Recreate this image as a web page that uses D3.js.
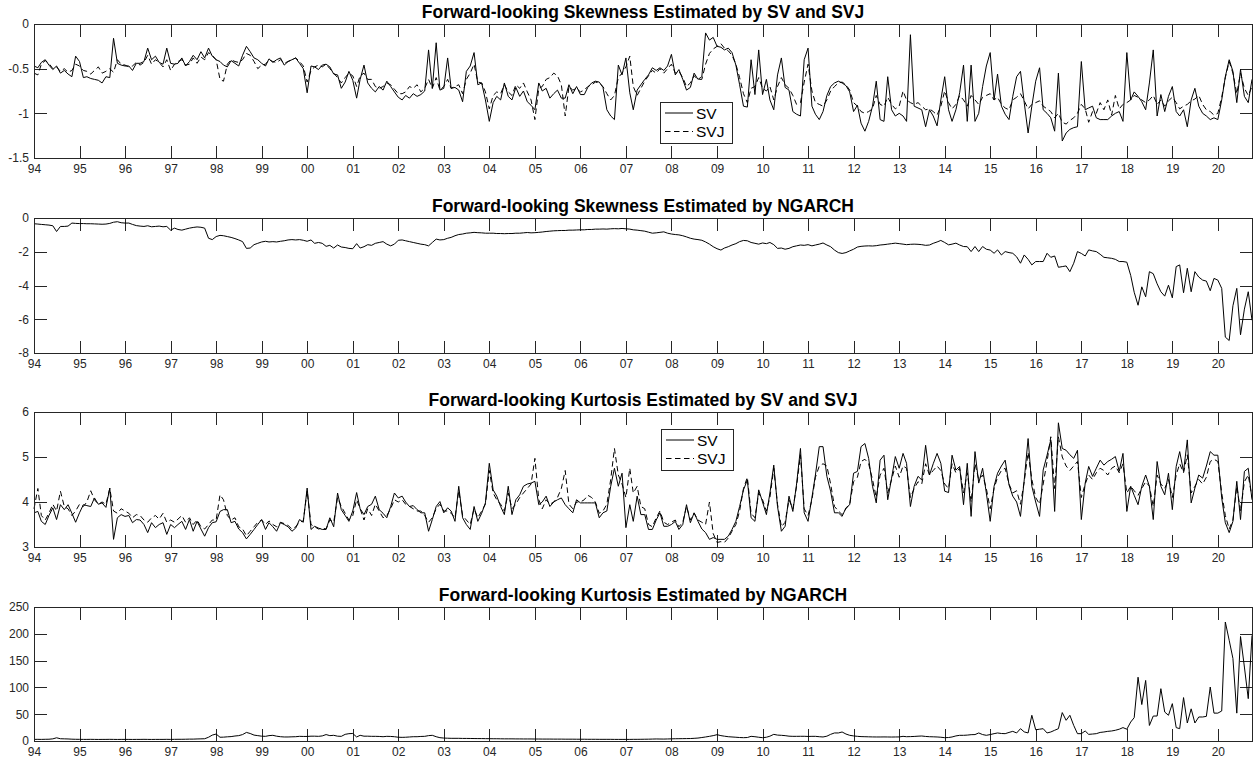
<!DOCTYPE html>
<html>
<head>
<meta charset="utf-8">
<script src="https://cdn.jsdelivr.net/npm/d3@7"></script>
<style>
  body { margin: 0; background: #fff; }
  svg { display: block; font-family: "Liberation Sans", Arial, Helvetica, sans-serif; }
</style>
</head>
<body>
<div id="chart"></div>
<script>
// monthly series, Jan 1994 .. Oct 2020 (one row per year)
var startYear = 1994;
var yearTicks = d3.range(1994, 2021);

var svSkew = [
  -0.47,-0.49,-0.43,-0.40,-0.46,-0.51,-0.47,-0.55,-0.52,-0.56,-0.59,-0.36,
  -0.42,-0.60,-0.59,-0.61,-0.62,-0.63,-0.66,-0.59,-0.60,-0.16,-0.44,-0.46,
  -0.47,-0.47,-0.52,-0.44,-0.44,-0.42,-0.27,-0.40,-0.36,-0.43,-0.45,-0.27,
  -0.44,-0.45,-0.44,-0.38,-0.47,-0.42,-0.35,-0.40,-0.31,-0.38,-0.27,-0.36,
  -0.40,-0.42,-0.46,-0.48,-0.41,-0.44,-0.47,-0.35,-0.25,-0.31,-0.38,-0.40,
  -0.44,-0.47,-0.39,-0.43,-0.40,-0.38,-0.46,-0.42,-0.40,-0.38,-0.44,-0.50,
  -0.77,-0.47,-0.48,-0.51,-0.46,-0.45,-0.48,-0.56,-0.57,-0.72,-0.65,-0.53,
  -0.63,-0.83,-0.62,-0.46,-0.66,-0.72,-0.76,-0.70,-0.74,-0.64,-0.70,-0.76,
  -0.82,-0.85,-0.80,-0.83,-0.78,-0.81,-0.79,-0.75,-0.29,-0.72,-0.21,-0.74,
  -0.72,-0.38,-0.72,-0.71,-0.74,-0.87,-0.53,-0.47,-0.32,-0.68,-0.66,-0.85,
  -1.09,-0.88,-0.81,-0.85,-0.66,-0.81,-0.85,-0.71,-0.81,-0.75,-0.87,-0.91,
  -0.96,-0.66,-0.75,-0.72,-0.83,-0.78,-0.74,-0.83,-0.83,-0.68,-0.78,-0.70,
  -0.79,-0.79,-0.71,-0.66,-0.64,-0.65,-0.71,-0.96,-1.03,-1.07,-0.46,-0.57,
  -0.38,-0.77,-0.96,-0.74,-0.68,-0.62,-0.57,-0.49,-0.52,-0.49,-0.52,-0.47,
  -0.34,-0.57,-0.51,-0.62,-0.74,-0.71,-0.55,-0.62,-0.59,-0.10,-0.18,-0.15,
  -0.25,-0.26,-0.29,-0.27,-0.32,-0.46,-0.68,-0.92,-0.93,-0.40,-0.79,-0.29,
  -0.79,-0.62,-0.85,-0.96,-0.57,-0.38,-0.71,-0.74,-0.98,-1.01,-1.03,-0.40,
  -0.27,-0.92,-1.01,-1.07,-0.98,-0.80,-0.70,-0.66,-0.64,-0.66,-0.69,-0.76,
  -0.98,-0.91,-1.11,-1.20,-1.09,-0.92,-0.64,-1.07,-1.09,-0.59,-0.96,-1.03,
  -1.00,-1.03,-1.09,-0.12,-0.92,-0.94,-0.96,-1.15,-0.96,-1.03,-1.14,-0.85,
  -0.59,-0.96,-1.09,-0.96,-0.77,-0.46,-1.09,-0.46,-1.09,-1.00,-0.70,-0.47,
  -0.32,-0.85,-0.56,-0.92,-1.01,-1.07,-0.81,-0.59,-0.53,-0.88,-1.22,-0.92,
  -0.64,-0.49,-0.96,-1.00,-1.05,-1.20,-0.55,-1.31,-1.22,-1.18,-1.16,-1.15,
  -0.42,-0.96,-0.94,-0.92,-1.05,-1.07,-1.07,-1.07,-1.03,-1.00,-0.98,-1.09,
  -0.32,-0.85,-0.76,-0.81,-0.87,-0.96,-0.66,-0.29,-1.03,-0.79,-0.98,-0.81,
  -0.70,-0.98,-1.03,-0.96,-1.15,-0.85,-0.72,-0.92,-1.00,-1.03,-1.07,-1.05,
  -1.07,-0.85,-0.59,-0.40,-0.53,-0.88,-0.51,-0.81,-0.88,-0.62
];

var svjSkew = [
  -0.55,-0.57,-0.45,-0.41,-0.44,-0.50,-0.48,-0.53,-0.50,-0.54,-0.52,-0.45,
  -0.47,-0.52,-0.53,-0.56,-0.52,-0.48,-0.55,-0.53,-0.50,-0.54,-0.40,-0.45,
  -0.46,-0.48,-0.47,-0.43,-0.46,-0.43,-0.35,-0.45,-0.40,-0.43,-0.48,-0.40,
  -0.52,-0.45,-0.42,-0.40,-0.46,-0.45,-0.38,-0.44,-0.37,-0.40,-0.32,-0.35,
  -0.40,-0.62,-0.64,-0.45,-0.40,-0.42,-0.43,-0.40,-0.33,-0.35,-0.42,-0.50,
  -0.46,-0.45,-0.40,-0.42,-0.43,-0.40,-0.44,-0.42,-0.40,-0.38,-0.42,-0.47,
  -0.65,-0.52,-0.48,-0.46,-0.48,-0.45,-0.50,-0.55,-0.60,-0.66,-0.60,-0.55,
  -0.58,-0.70,-0.58,-0.55,-0.62,-0.62,-0.70,-0.72,-0.70,-0.66,-0.68,-0.73,
  -0.78,-0.78,-0.76,-0.70,-0.72,-0.68,-0.76,-0.72,-0.62,-0.72,-0.60,-0.74,
  -0.70,-0.62,-0.72,-0.70,-0.68,-0.78,-0.62,-0.55,-0.45,-0.65,-0.66,-0.76,
  -0.95,-0.80,-0.76,-0.78,-0.68,-0.76,-0.80,-0.68,-0.72,-0.66,-0.76,-0.85,
  -1.07,-0.72,-0.70,-0.62,-0.60,-0.55,-0.58,-0.68,-1.03,-0.70,-0.74,-0.72,
  -0.76,-0.74,-0.70,-0.68,-0.65,-0.66,-0.70,-0.78,-0.85,-0.80,-0.60,-0.55,
  -0.48,-0.36,-0.70,-0.80,-0.72,-0.64,-0.58,-0.52,-0.55,-0.50,-0.55,-0.50,
  -0.45,-0.55,-0.53,-0.60,-0.70,-0.66,-0.58,-0.62,-0.62,-0.45,-0.33,-0.28,
  -0.25,-0.22,-0.27,-0.30,-0.35,-0.45,-0.60,-0.78,-0.88,-0.72,-0.70,-0.60,
  -0.72,-0.75,-0.70,-0.85,-0.70,-0.60,-0.68,-0.72,-0.80,-0.90,-0.88,-0.65,
  -0.45,-0.75,-0.88,-0.90,-0.92,-0.85,-0.75,-0.70,-0.66,-0.65,-0.68,-0.74,
  -0.88,-0.92,-0.98,-1.00,-0.98,-0.95,-0.80,-0.90,-0.92,-0.82,-0.90,-0.95,
  -0.92,-0.75,-0.85,-0.88,-0.90,-0.88,-0.92,-0.96,-0.95,-0.98,-1.02,-0.92,
  -0.75,-0.88,-0.95,-0.90,-0.80,-0.85,-0.92,-0.80,-0.85,-0.90,-0.82,-0.80,
  -0.78,-0.85,-0.82,-0.90,-0.94,-0.96,-0.85,-0.82,-0.78,-0.86,-0.95,-0.90,
  -0.88,-0.86,-0.92,-0.95,-0.98,-1.05,-1.00,-1.10,-1.12,-1.08,-1.05,-1.00,
  -0.90,-0.95,-1.10,-0.98,-1.00,-0.88,-0.96,-0.85,-1.02,-0.80,-0.95,-0.90,
  -0.88,-0.85,-0.80,-0.82,-0.85,-0.88,-0.85,-0.80,-0.90,-0.85,-0.92,-0.86,
  -0.82,-0.88,-0.95,-0.92,-0.90,-0.86,-0.84,-0.80,-0.90,-0.96,-0.98,-1.02,
  -1.00,-0.82,-0.60,-0.42,-0.55,-0.78,-0.55,-0.72,-0.80,-0.70
];

var ngarchSkew = [
  -0.34,-0.36,-0.38,-0.40,-0.42,-0.46,-0.80,-0.50,-0.50,-0.48,-0.30,-0.32,
  -0.33,-0.33,-0.34,-0.34,-0.35,-0.36,-0.37,-0.36,-0.32,-0.25,-0.22,-0.28,
  -0.30,-0.30,-0.38,-0.45,-0.48,-0.50,-0.46,-0.52,-0.50,-0.48,-0.52,-0.50,
  -0.72,-0.60,-0.68,-0.72,-0.66,-0.60,-0.56,-0.53,-0.55,-0.60,-1.20,-1.28,
  -1.10,-1.03,-1.05,-1.10,-1.15,-1.22,-1.30,-1.40,-1.80,-1.78,-1.58,-1.50,
  -1.42,-1.38,-1.42,-1.40,-1.42,-1.38,-1.35,-1.30,-1.28,-1.30,-1.28,-1.32,
  -1.38,-1.30,-1.50,-1.45,-1.50,-1.68,-1.62,-1.78,-1.60,-1.72,-1.75,-1.80,
  -1.82,-1.52,-1.78,-1.70,-1.58,-1.62,-1.50,-1.45,-1.40,-1.55,-1.65,-1.55,
  -1.32,-1.30,-1.35,-1.40,-1.45,-1.50,-1.55,-1.58,-1.65,-1.45,-1.25,-1.30,
  -1.28,-1.20,-1.15,-1.05,-0.98,-0.95,-0.90,-0.88,-0.85,-0.87,-0.88,-0.90,
  -0.90,-0.90,-0.92,-0.92,-0.93,-0.92,-0.92,-0.90,-0.90,-0.88,-0.86,-0.88,
  -0.87,-0.85,-0.83,-0.80,-0.78,-0.76,-0.75,-0.74,-0.74,-0.72,-0.72,-0.71,
  -0.70,-0.70,-0.68,-0.68,-0.66,-0.66,-0.65,-0.66,-0.64,-0.63,-0.64,-0.62,
  -0.64,-0.66,-0.70,-0.72,-0.75,-0.78,-0.84,-0.90,-0.88,-0.85,-0.82,-0.90,
  -0.95,-0.98,-1.00,-1.05,-1.12,-1.20,-1.25,-1.28,-1.32,-1.42,-1.55,-1.70,
  -1.82,-1.90,-1.78,-1.70,-1.60,-1.52,-1.40,-1.33,-1.35,-1.45,-1.50,-1.55,
  -1.48,-1.52,-1.45,-1.58,-1.80,-1.78,-1.85,-1.80,-1.70,-1.65,-1.60,-1.62,
  -1.58,-1.65,-1.60,-1.55,-1.48,-1.60,-1.70,-1.90,-2.05,-2.10,-2.05,-1.95,
  -1.85,-1.72,-1.68,-1.66,-1.65,-1.66,-1.64,-1.60,-1.58,-1.55,-1.52,-1.49,
  -1.52,-1.55,-1.58,-1.56,-1.55,-1.56,-1.58,-1.62,-1.60,-1.50,-1.42,-1.33,
  -1.45,-1.59,-1.55,-1.49,-1.60,-1.69,-1.70,-1.99,-1.69,-1.99,-1.69,-1.85,
  -1.90,-2.09,-1.89,-2.19,-1.99,-2.05,-2.09,-2.30,-2.68,-2.19,-2.45,-2.78,
  -2.58,-2.58,-2.58,-2.09,-2.33,-2.25,-2.92,-2.88,-2.84,-3.18,-2.68,-1.99,
  -2.10,-2.25,-1.89,-1.95,-1.99,-2.15,-2.33,-2.36,-2.39,-2.45,-2.58,-2.58,
  -2.62,-3.40,-4.40,-5.17,-4.08,-4.67,-3.18,-3.30,-3.90,-4.37,-4.63,-3.98,
  -4.73,-2.88,-2.78,-4.43,-2.98,-4.37,-3.18,-3.50,-3.68,-3.74,-4.31,-3.58,
  -3.68,-4.17,-7.06,-7.26,-5.20,-4.17,-6.92,-5.40,-4.37,-6.06
];

var svKurt = [
  3.76,3.79,3.57,3.50,3.70,3.87,3.61,3.94,3.83,3.94,3.75,3.55,
  3.76,3.94,3.92,3.90,4.09,3.95,3.98,3.88,4.31,3.17,3.65,3.72,
  3.68,3.70,3.54,3.61,3.60,3.50,3.32,3.54,3.43,3.50,3.54,3.28,
  3.50,3.43,3.50,3.57,3.39,3.61,3.35,3.57,3.40,3.24,3.43,3.54,
  3.56,3.79,3.83,3.83,3.54,3.57,3.40,3.32,3.18,3.28,3.39,3.50,
  3.61,3.39,3.54,3.45,3.35,3.54,3.50,3.45,3.35,3.42,3.61,3.55,
  4.31,3.39,3.46,3.42,3.39,3.39,3.65,3.45,4.20,3.83,3.70,3.57,
  3.80,4.21,3.85,3.72,3.90,3.95,4.13,3.83,3.75,3.65,3.90,4.20,
  4.09,4.13,4.00,3.90,3.92,3.83,3.76,3.76,3.35,3.61,3.90,4.01,
  3.76,3.87,3.80,3.57,4.35,3.65,3.50,3.39,3.90,3.57,3.75,3.98,
  4.86,4.27,4.13,3.90,3.72,4.35,3.72,4.05,4.16,4.35,4.40,4.42,
  4.46,3.94,4.00,4.13,3.90,4.00,4.05,4.09,3.94,3.85,3.76,4.05,
  3.98,3.98,3.98,3.98,3.98,3.65,3.76,3.80,4.35,4.75,4.35,4.64,
  3.43,3.94,3.57,4.13,3.72,3.72,3.39,3.39,3.60,3.76,3.46,3.46,
  3.50,3.57,3.39,3.50,3.94,3.54,3.76,3.57,3.40,3.32,3.17,3.21,
  3.17,3.17,3.17,3.24,3.39,3.57,3.90,4.27,4.49,3.65,3.57,4.27,
  4.00,3.72,4.20,4.82,3.90,3.35,3.46,4.13,3.79,4.40,5.19,3.76,
  3.57,4.10,4.60,5.23,5.23,4.57,4.24,3.76,3.76,3.68,3.87,3.94,
  4.64,4.68,5.23,5.30,4.97,4.35,3.98,4.93,5.04,4.05,4.53,5.01,
  4.75,5.08,4.86,3.90,4.35,4.57,4.49,5.26,4.60,4.85,5.08,4.86,
  4.24,4.21,5.04,4.71,4.79,3.94,4.86,3.68,5.12,4.42,4.75,4.20,
  3.57,4.35,4.64,4.80,4.93,4.38,4.13,4.00,3.68,4.49,5.41,4.35,
  4.00,3.68,4.71,5.04,5.38,3.79,5.76,5.19,5.15,5.05,4.97,5.15,
  3.61,4.42,4.79,4.57,4.75,4.93,4.82,4.90,4.95,5.01,4.68,5.08,
  3.79,4.35,4.15,3.94,4.35,4.60,4.35,3.61,4.90,4.35,4.16,4.64,
  3.83,4.79,5.12,4.68,5.38,3.98,4.31,4.60,4.53,4.80,5.12,5.04,
  5.04,4.09,3.54,3.32,3.57,4.46,3.61,4.68,4.75,4.05
];

var svjKurt = [
  3.85,4.30,3.70,3.60,3.75,3.95,3.80,4.24,3.90,3.85,3.70,3.80,
  3.95,3.90,4.00,4.25,4.05,3.95,4.00,3.95,4.30,3.80,3.75,3.85,
  3.80,3.75,3.65,3.72,3.70,3.60,3.55,3.65,3.70,3.62,3.75,3.55,
  3.60,3.55,3.62,3.70,3.55,3.65,3.50,3.60,3.45,3.40,3.50,3.60,
  3.60,4.16,4.05,3.70,3.60,3.65,3.45,3.40,3.25,3.35,3.45,3.55,
  3.60,3.50,3.58,3.50,3.45,3.55,3.52,3.48,3.40,3.45,3.55,3.58,
  4.25,3.50,3.45,3.40,3.42,3.40,3.60,3.55,4.10,3.90,3.75,3.60,
  3.70,4.05,3.85,3.60,3.85,3.70,3.95,3.80,3.65,3.70,3.85,4.05,
  4.00,4.05,3.95,3.90,3.85,3.80,3.80,3.70,3.55,3.65,3.85,3.95,
  3.80,3.80,3.75,3.65,4.25,3.70,3.60,3.50,3.85,3.65,3.80,3.95,
  4.70,4.20,4.05,3.95,3.80,4.20,3.85,3.95,4.10,4.20,4.30,4.40,
  4.97,4.05,3.85,4.05,3.95,4.00,4.10,4.30,4.70,3.95,3.85,4.00,
  4.00,4.05,4.15,4.10,4.00,3.75,3.80,3.95,4.50,5.19,4.60,4.40,
  4.10,4.75,4.20,4.35,3.90,3.85,3.50,3.45,3.65,3.80,3.55,3.50,
  3.55,3.60,3.45,3.55,3.90,3.60,3.75,3.60,3.55,3.50,4.00,3.30,
  3.10,3.12,3.10,3.20,3.35,3.50,3.80,4.30,4.55,3.75,3.65,4.20,
  4.05,3.80,4.10,4.75,3.95,3.45,3.55,4.05,3.85,4.35,5.05,3.85,
  3.70,4.05,4.55,4.80,4.85,4.80,4.40,3.90,3.80,3.72,3.85,3.95,
  4.45,4.55,4.90,4.95,4.85,4.50,4.10,4.60,4.75,4.20,4.50,4.80,
  4.55,4.80,4.75,4.10,4.30,4.45,4.40,4.85,4.60,4.70,4.80,4.70,
  4.40,4.30,4.85,4.65,4.75,4.20,4.65,4.00,4.85,4.50,4.60,4.30,
  3.85,4.30,4.55,4.70,4.75,4.40,4.20,4.25,3.95,4.45,5.10,4.50,
  4.10,3.95,4.40,4.90,5.45,4.30,5.45,5.00,4.80,4.70,4.80,4.90,
  4.10,4.40,4.60,4.50,4.65,4.75,4.70,4.60,4.75,4.80,4.65,4.85,
  4.20,4.35,4.25,4.15,4.30,4.45,4.35,3.90,4.60,4.40,4.30,4.50,
  4.10,4.60,4.85,4.65,5.05,4.20,4.35,4.50,4.40,4.55,4.90,4.95,
  4.90,4.20,3.70,3.40,3.60,4.35,3.80,4.45,4.60,4.10
];

var ngarchKurt = [
  3.0,3.1,3.0,3.2,3.3,4.0,6.0,4.2,4.0,3.8,3.4,3.2,
  3.1,3.0,3.0,3.1,3.0,2.9,3.0,3.0,3.1,3.0,2.9,3.0,
  3.0,3.0,2.9,3.0,3.0,3.1,3.0,2.9,3.0,3.0,3.0,3.1,
  3.0,3.1,3.2,3.2,3.3,3.5,3.5,3.8,4.0,4.2,7.0,11.0,
  13.0,7.0,7.2,7.8,8.2,9.3,10.0,12.0,16.0,14.0,11.0,10.0,
  9.0,8.7,10.0,10.6,9.0,8.0,7.5,7.5,7.8,8.0,8.7,8.5,
  8.5,9.0,9.0,8.7,9.5,12.0,10.0,10.6,9.0,8.7,12.4,13.7,
  14.0,7.5,10.6,9.0,9.0,8.7,8.7,8.5,8.0,8.7,8.5,8.0,
  7.0,6.8,7.0,7.5,8.0,8.0,8.5,8.7,10.0,10.6,8.0,6.2,
  5.5,5.2,5.0,5.0,5.0,4.8,4.8,4.7,4.6,4.5,4.5,4.4,
  4.3,4.2,4.2,4.1,4.0,4.0,4.0,3.9,3.9,3.8,3.8,3.8,
  3.7,3.7,3.6,3.6,3.6,3.5,3.5,3.5,3.4,3.4,3.4,3.3,
  3.3,3.3,3.2,3.2,3.2,3.1,3.1,3.1,3.1,3.0,3.0,3.0,
  3.0,3.0,3.1,3.1,3.2,3.3,3.4,3.6,3.8,3.7,3.6,3.8,
  4.0,4.2,4.3,4.4,4.5,4.6,5.0,5.5,6.5,7.5,8.7,10.0,
  11.8,10.0,9.0,8.0,7.5,7.0,6.5,6.2,6.5,8.7,8.0,7.0,
  6.2,7.0,9.0,12.4,11.0,10.6,10.0,9.0,8.7,8.7,8.8,8.8,
  8.5,8.7,8.7,8.0,7.5,9.0,12.4,15.0,15.0,16.8,13.0,10.6,
  9.5,8.7,8.2,8.0,7.8,7.6,7.5,7.5,7.6,7.5,7.4,7.5,
  7.6,8.7,8.0,8.2,8.5,9.0,9.3,8.5,8.0,7.8,7.5,7.0,
  6.2,6.5,7.5,9.5,10.6,10.6,11.0,11.8,12.0,15.0,12.0,10.6,
  12.0,13.7,15.0,14.0,13.7,16.0,18.0,15.0,23.0,17.0,15.0,48.0,
  21.0,22.0,23.0,15.0,16.8,20.0,23.0,53.0,38.6,48.0,29.0,13.7,
  13.7,18.7,12.4,13.0,13.7,16.0,16.8,18.0,18.7,20.0,22.0,25.0,
  22.0,35.4,43.5,119.0,68.0,113.0,29.0,46.6,46.6,97.6,54.0,48.0,
  69.7,25.0,23.0,81.0,33.6,60.0,33.6,44.8,44.8,46.0,100.7,52.0,
  52.0,56.0,222.0,188.0,154.0,52.0,195.0,138.0,79.0,197.0
];

var titles = [
  "Forward-looking Skewness Estimated by SV and SVJ",
  "Forward-looking Skewness Estimated by NGARCH",
  "Forward-looking Kurtosis Estimated by SV and SVJ",
  "Forward-looking Kurtosis Estimated by NGARCH"
];
var legendLabels = ["SV", "SVJ"];

var svgWidth = 1259;
var svgHeight = 763;
var plotLeft = 34;
var plotRight = 1252;
var tickLen = 12.5;
var axisColor = "#262626";

var monthDates = d3.range(svSkew.length).map(i => new Date(startYear, i, 1));

var x = d3.scaleTime()
  .domain([monthDates[0], monthDates[monthDates.length - 1]])
  .range([plotLeft, plotRight]);

var panels = [
  { top: 24, bottom: 158, domain: [-1.5, 0], ticks: [-1.5, -1, -0.5, 0],
    series: [svSkew, svjSkew], legend: [660, 102] },
  { top: 218, bottom: 353, domain: [-8, 0], ticks: [-8, -6, -4, -2, 0],
    series: [ngarchSkew] },
  { top: 412, bottom: 547, domain: [3, 6], ticks: [3, 4, 5, 6],
    series: [svKurt, svjKurt], legend: [661, 429] },
  { top: 607, bottom: 741, domain: [0, 250], ticks: [0, 50, 100, 150, 200, 250],
    series: [ngarchKurt] }
];
var dashes = [null, "5.5,3.5"];

var svg = d3.select("#chart")
  .append("svg")
  .attr("width", svgWidth)
  .attr("height", svgHeight);

panels.forEach(function(p, k) {
  var y = d3.scaleLinear().domain(p.domain).range([p.bottom, p.top]);
  var g = svg.append("g");

  // bottom axis with labels, ticks pointing inward
  var bottom = g.append("g")
    .attr("transform", `translate(0, ${p.bottom})`)
    .call(d3.axisBottom(x)
      .tickValues(yearTicks.map(yr => new Date(yr, 0, 1)))
      .tickFormat(d3.timeFormat("%y"))
      .tickSizeInner(-tickLen).tickSizeOuter(0).tickPadding(6));

  var top = g.append("g")
    .attr("transform", `translate(0, ${p.top})`)
    .call(d3.axisTop(x)
      .tickValues(yearTicks.map(yr => new Date(yr, 0, 1)))
      .tickFormat("")
      .tickSizeInner(-tickLen).tickSizeOuter(0));

  var left = g.append("g")
    .attr("transform", `translate(${plotLeft}, 0)`)
    .call(d3.axisLeft(y)
      .tickValues(p.ticks)
      .tickFormat(d => String(d))
      .tickSizeInner(-tickLen).tickSizeOuter(0).tickPadding(5));

  var right = g.append("g")
    .attr("transform", `translate(${plotRight}, 0)`)
    .call(d3.axisRight(y)
      .tickValues(p.ticks)
      .tickFormat("")
      .tickSizeInner(-tickLen).tickSizeOuter(0));

  [bottom, top, left, right].forEach(function(a) {
    a.select(".domain").remove();
    a.selectAll("line").attr("stroke", axisColor).attr("shape-rendering", "crispEdges");
    a.selectAll("text")
      .attr("fill", axisColor)
      .style("font-family", "\"Liberation Sans\", Arial, sans-serif")
      .style("font-size", "12px");
  });

  // data lines
  p.series.forEach(function(values, s) {
    var line = d3.line()
      .x((d, i) => x(monthDates[i]))
      .y(d => y(d));
    g.append("path")
      .datum(values)
      .attr("fill", "none")
      .attr("stroke", "#000")
      .attr("stroke-width", 1)
      .attr("stroke-dasharray", dashes[s])
      .attr("d", line);
  });

  // axes box
  g.append("rect")
    .attr("x", plotLeft)
    .attr("y", p.top)
    .attr("width", plotRight - plotLeft)
    .attr("height", p.bottom - p.top)
    .attr("fill", "none")
    .attr("stroke", axisColor)
    .attr("shape-rendering", "crispEdges");

  // title
  g.append("text")
    .attr("x", (plotLeft + plotRight) / 2)
    .attr("y", p.top - 6)
    .attr("text-anchor", "middle")
    .attr("font-weight", "bold")
    .attr("font-size", "17.5px")
    .attr("fill", "#000")
    .text(titles[k]);

  // legend
  if (p.legend) {
    var lx = p.legend[0], ly = p.legend[1];
    var lg = g.append("g").attr("transform", `translate(${lx}, ${ly})`);
    lg.append("rect")
      .attr("width", 72).attr("height", 41)
      .attr("fill", "#fff")
      .attr("stroke", axisColor)
      .attr("shape-rendering", "crispEdges");
    legendLabels.forEach(function(lbl, s) {
      var ry = 11 + s * 18.5;
      lg.append("line")
        .attr("x1", 5).attr("x2", 33)
        .attr("y1", ry).attr("y2", ry)
        .attr("stroke", "#000")
        .attr("stroke-dasharray", dashes[s]);
      lg.append("text")
        .attr("x", 36).attr("y", ry + 5.5)
        .attr("font-size", "15.5px")
        .attr("fill", "#000")
        .text(lbl);
    });
  }
});
</script>
</body>
</html>
